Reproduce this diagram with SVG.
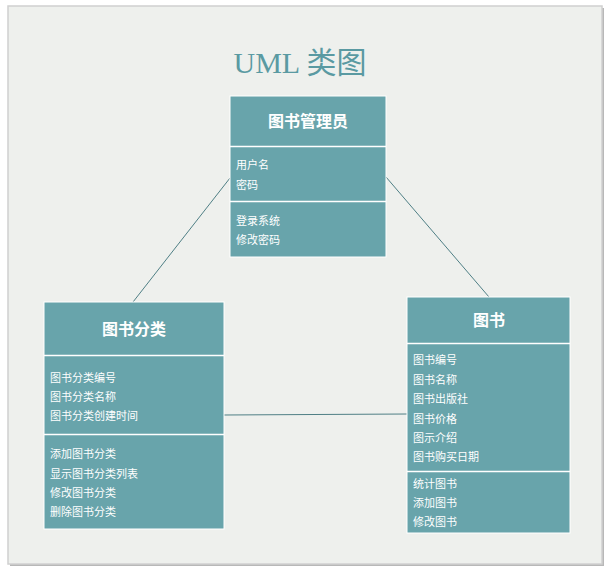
<svg xmlns="http://www.w3.org/2000/svg" width="610" height="570" viewBox="0 0 610 570">
<style>
.box{fill:#68a4ab;stroke:#ffffff;stroke-width:1}
.sep{stroke:#ffffff;stroke-width:1.5}
.hd{font-family:"Noto Sans CJK SC","Noto Sans",sans-serif;font-size:16px;font-weight:bold;fill:#ffffff;text-anchor:middle}
.it{font-family:"Noto Sans CJK SC","Noto Sans",sans-serif;font-size:11px;fill:#ffffff}
.conn line{stroke:#4f7f85;stroke-width:1}
</style>
<rect x="0" y="0" width="610" height="570" fill="#ffffff"/>
<rect x="10" y="8" width="594" height="558" fill="#b8b8b8"/>
<rect x="8" y="6" width="594" height="558" fill="#eef0ed" stroke="#d0d0d0" stroke-width="1.5"/>
<text x="300" y="73" font-family="Liberation Serif,'Noto Sans CJK SC',serif" font-size="30" fill="#5a9aa2" text-anchor="middle">UML 类图</text>
<g class="conn">
<line x1="230" y1="178" x2="133" y2="302"/>
<line x1="386" y1="177" x2="489" y2="297"/>
<line x1="224" y1="415" x2="407" y2="414"/>
</g>
<g id="librarian">
<rect class="box" x="230" y="96" width="156" height="161"/>
<line class="sep" x1="230" y1="146.5" x2="386" y2="146.5"/>
<line class="sep" x1="230" y1="201.5" x2="386" y2="201.5"/>
<text class="hd" x="308" y="127">图书管理员</text>
<text class="it" x="236" y="169">用户名</text>
<text class="it" x="236" y="189">密码</text>
<text class="it" x="236" y="225">登录系统</text>
<text class="it" x="236" y="244">修改密码</text>
</g>
<g id="category">
<rect class="box" x="44" y="302" width="180" height="227"/>
<line class="sep" x1="44" y1="355.5" x2="224" y2="355.5"/>
<line class="sep" x1="44" y1="434.5" x2="224" y2="434.5"/>
<text class="hd" x="134" y="335">图书分类</text>
<text class="it" x="50" y="382">图书分类编号</text>
<text class="it" x="50" y="401">图书分类名称</text>
<text class="it" x="50" y="420">图书分类创建时间</text>
<text class="it" x="50" y="458">添加图书分类</text>
<text class="it" x="50" y="478">显示图书分类列表</text>
<text class="it" x="50" y="497">修改图书分类</text>
<text class="it" x="50" y="516">删除图书分类</text>
</g>
<g id="book">
<rect class="box" x="407" y="297" width="163" height="236"/>
<line class="sep" x1="407" y1="343.5" x2="570" y2="343.5"/>
<line class="sep" x1="407" y1="471.5" x2="570" y2="471.5"/>
<text class="hd" x="489" y="326">图书</text>
<text class="it" x="413" y="364">图书编号</text>
<text class="it" x="413" y="384">图书名称</text>
<text class="it" x="413" y="403">图书出版社</text>
<text class="it" x="413" y="423">图书价格</text>
<text class="it" x="413" y="442">图示介绍</text>
<text class="it" x="413" y="461">图书购买日期</text>
<text class="it" x="413" y="488">统计图书</text>
<text class="it" x="413" y="507">添加图书</text>
<text class="it" x="413" y="526">修改图书</text>
</g>
</svg>
